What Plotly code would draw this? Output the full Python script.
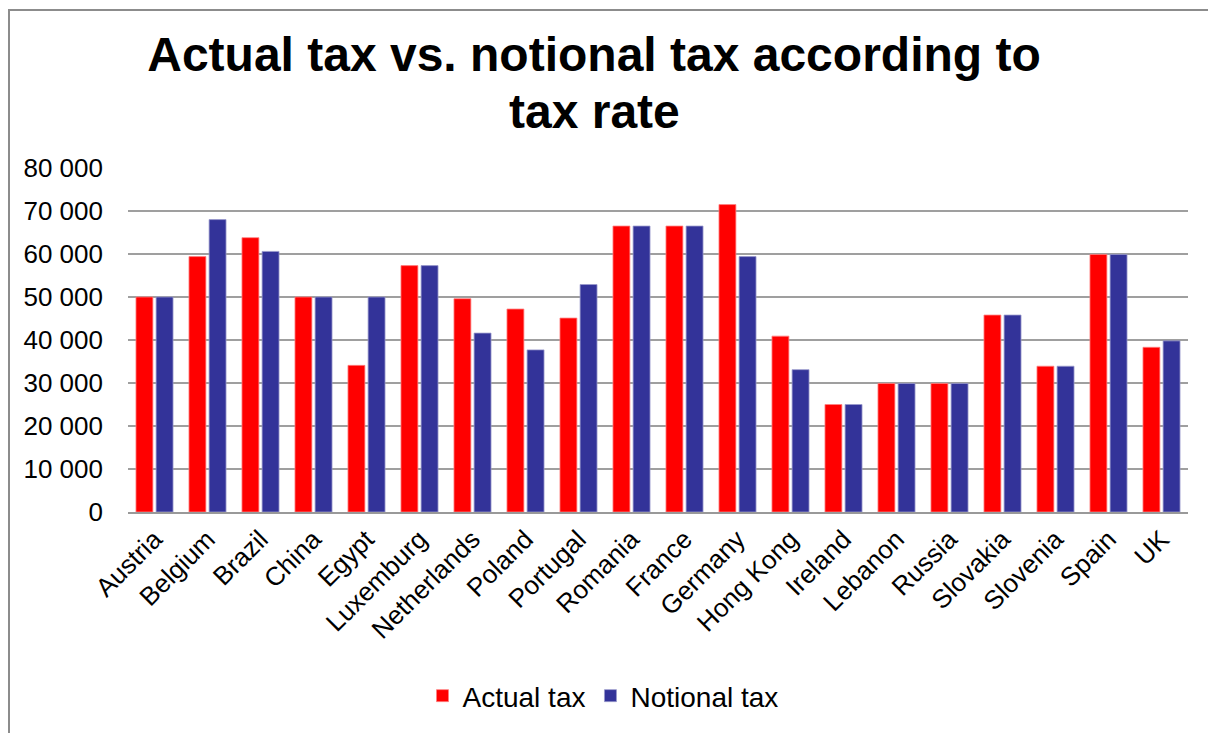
import plotly.graph_objects as go

countries = ["Austria", "Belgium", "Brazil", "China", "Egypt", "Luxemburg", "Netherlands",
             "Poland", "Portugal", "Romania", "France", "Germany", "Hong Kong", "Ireland",
             "Lebanon", "Russia", "Slovakia", "Slovenia", "Spain", "UK"]
actual_tax = [50000, 59400, 63800, 50000, 34100, 57300, 49600, 47200, 45100, 66500,
              66500, 71500, 40900, 25000, 29900, 29900, 45800, 33900, 59900, 38300]
notional_tax = [50000, 68000, 60600, 50000, 50000, 57300, 41600, 37700, 52900, 66500,
                66500, 59400, 33100, 25000, 29900, 29900, 45800, 33900, 59900, 39800]
y_ticks = [0, 10000, 20000, 30000, 40000, 50000, 60000, 70000, 80000]

# page has an 8px body margin; work in reference-pixel coordinates, shifted by OFF
OFF = 8
W, H = 1216 - OFF, 733 - OFF
L, R, T, B = 128 - OFF, 1188 - OFF, 168 - OFF, 514 - OFF
pw, ph = R - L, B - T

def px(x):
    return (x - OFF - L) / pw

def py(y):
    return (B - (y - OFF)) / ph

font = "Liberation Sans, Arial, sans-serif"

fig = go.Figure()
fig.add_trace(go.Bar(name="Actual tax", x=countries, y=actual_tax,
                     marker=dict(color="#FF0000", line=dict(color="#FF8080", width=0.8))))
fig.add_trace(go.Bar(name="Notional tax", x=countries, y=notional_tax,
                     marker=dict(color="#333399", line=dict(color="#9999CC", width=0.8))))

fig.update_layout(
    width=W, height=H,
    margin=dict(l=L, r=W - R, t=T, b=H - B, pad=0),
    paper_bgcolor="white", plot_bgcolor="white",
    font=dict(family=font, color="black", size=26),
    separators=". ",
    barmode="group", bargap=0.24, bargroupgap=0.16,
    title=dict(text="<b>Actual tax vs. notional tax according to</b>",
               font=dict(size=48, family=font, color="black"),
               x=(594 - OFF) / W, xanchor="center", xref="container",
               y=1 - (54.5 - OFF) / H, yanchor="middle", yref="container"),
    annotations=[dict(text="<b>tax rate</b>", xref="paper", yref="paper",
                      x=px(594), y=py(111), xanchor="center", yanchor="middle",
                      showarrow=False, font=dict(size=48, family=font, color="black"))],
    showlegend=True,
    legend=dict(orientation="h", x=px(603), xanchor="center", y=py(699), yanchor="middle",
                font=dict(size=28, family=font, color="black"), traceorder="normal",
                itemwidth=30, bgcolor="rgba(0,0,0,0)"),
    xaxis=dict(tickangle=-45, showgrid=False, showline=True, linecolor="#999999",
               linewidth=1.5, ticks="", tickfont=dict(size=26), automargin=False),
    yaxis=dict(range=[0, 80000], tickvals=y_ticks, tickformat=",d", showgrid=True,
               gridcolor="#9f9f9f", gridwidth=1.5, zeroline=False, showline=False,
               ticks="", ticklabelstandoff=24, tickfont=dict(size=26), automargin=False),
    shapes=[dict(type="rect", xref="paper", yref="paper",
                 x0=px(OFF + 1), x1=px(1214), y0=py(760), y1=py(OFF + 1),
                 line=dict(color="#8c8c8c", width=2), fillcolor="rgba(0,0,0,0)",
                 layer="below")],
)

fig.write_html("out.html")
